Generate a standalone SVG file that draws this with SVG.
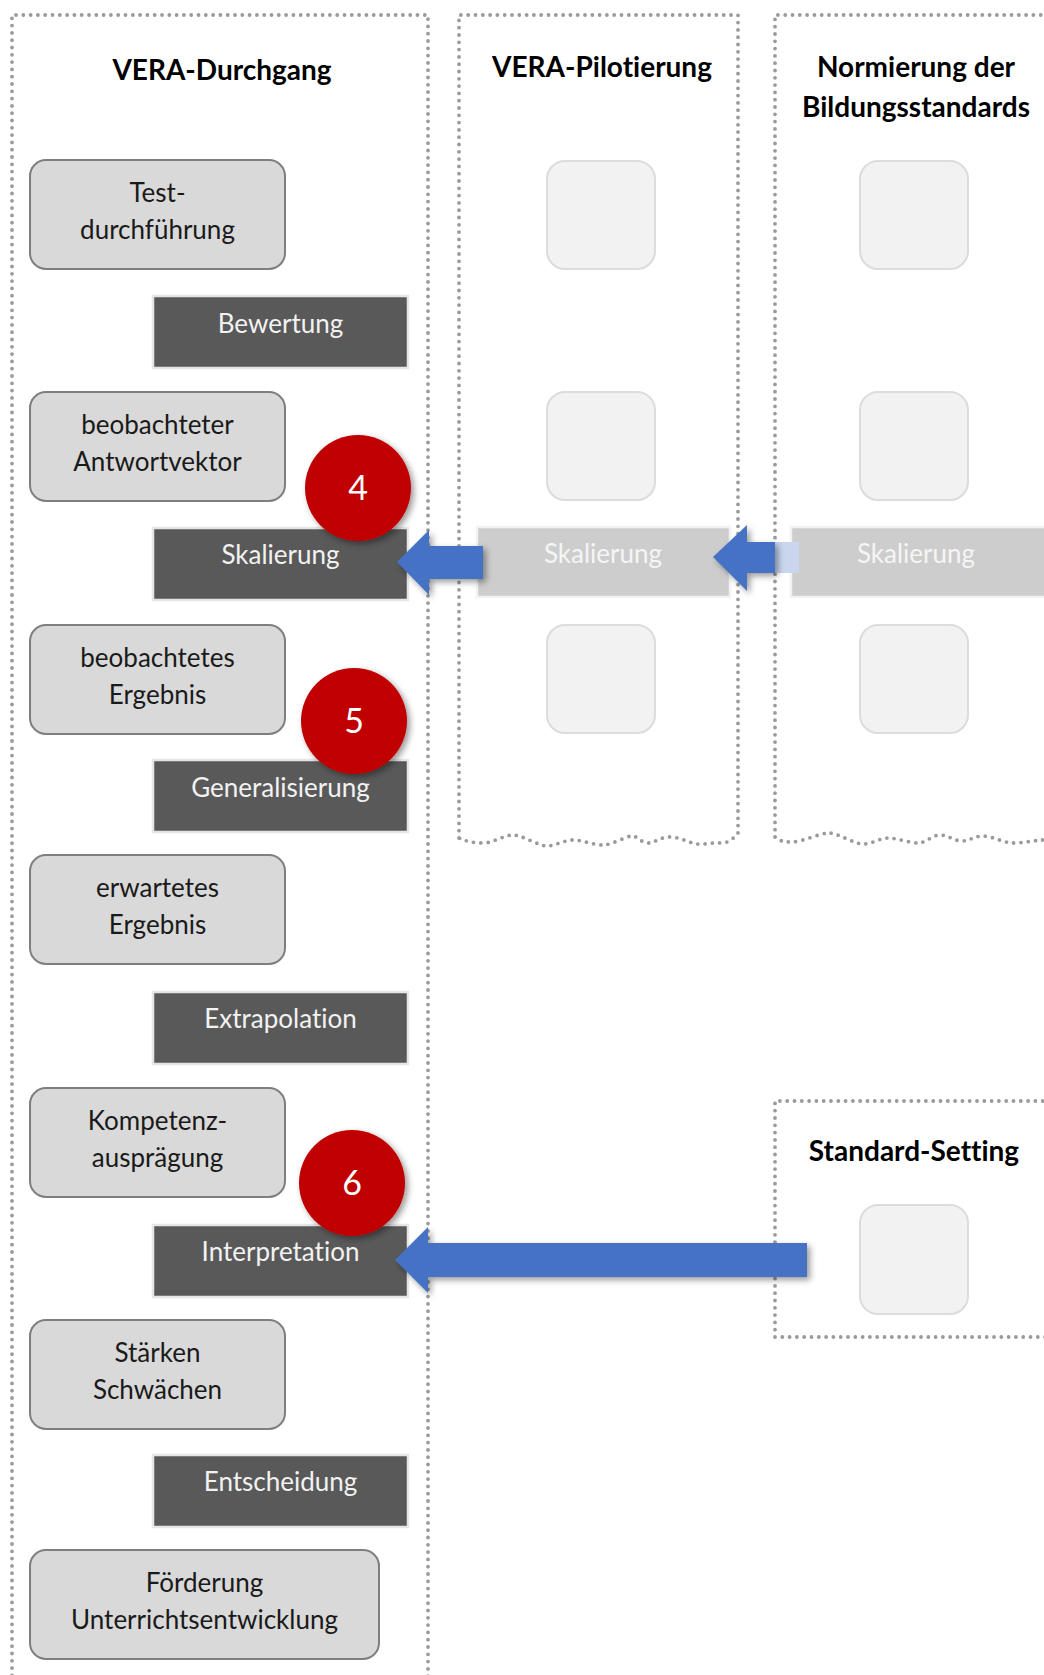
<svg xmlns="http://www.w3.org/2000/svg" width="1044" height="1675" viewBox="0 0 1044 1675">
<defs>
<style>
text{font-variant-ligatures:none;font-feature-settings:"liga" 0,"clig" 0}
.cont{fill:none;stroke:#9a9a9a;stroke-width:3.8;stroke-dasharray:0 7.3;stroke-linecap:round;stroke-linejoin:round}
.title{font-family:Lato,"Liberation Sans",sans-serif;font-weight:bold;font-size:28px;fill:#000;text-anchor:middle}
.lbox{fill:#d9d9d9;stroke:#7f7f7f;stroke-width:2}
.ltxt{font-family:Lato,"Liberation Sans",sans-serif;font-size:26px;fill:#1a1a1a;text-anchor:middle}
.dbox{fill:#595959;stroke:#e6e6e6;stroke-width:2.5}
.dtxt{font-family:Lato,"Liberation Sans",sans-serif;font-size:26px;fill:#f2f2f2;text-anchor:middle}
.fbox{fill:#f2f2f2;stroke:#dcdcdc;stroke-width:2}
.fsk{fill:#cdcdcd;stroke:#f2f2f2;stroke-width:2.5}
.ftxt{font-family:Lato,"Liberation Sans",sans-serif;font-size:26px;fill:#f5f5f5;text-anchor:middle}
.circ{fill:#c00000;filter:url(#sh)}
.ctxt{font-family:Lato,"Liberation Sans",sans-serif;font-size:34px;fill:#fff;text-anchor:middle}
.arr{fill:#4472c4;filter:url(#sh)}
</style>
<filter id="sh" x="-20%" y="-20%" width="150%" height="150%">
<feDropShadow dx="3" dy="3" stdDeviation="3" flood-color="#000" flood-opacity="0.4"/>
</filter>
</defs>
<rect width="1044" height="1675" fill="#fff"/>

<g id="containers">
<g id="c-vera-durchgang">
<path class="cont" d="M12,1690 L12,15 L428,15 L428,1690"/>
<text class="title" x="222" y="80">VERA-Durchgang</text>
</g>
<g id="c-vera-pilotierung">
<path class="cont" d="M459,838 L459,15 L738,15 L738,833 C735,837 728,844 720,843 S705,845 697,844 S678,836 668,837 S655,843 648,843 S638,836 632,836 S612,845 603,845 S582,840 573,840 S555,846 547,846 S522,835 513,835 S493,843 483,843 S465,841 459,838 Z"/>
<text class="title" x="602" y="77">VERA-Pilotierung</text>
</g>
<g id="c-normierung">
<path class="cont" d="M775,837 L775,15 L1050,15 M1050,840 C1045,840 1040,840 1040,840 S1022,843 1013,843 S992,836 983,836 S970,841 962,841 S948,835 940,835 S926,843 918,843 S896,838 888,838 S872,844 863,844 S838,833 829,833 S802,842 792,842 S778,840 775,837"/>
<text class="title" x="916" y="77">Normierung der</text>
<text class="title" x="916" y="117">Bildungsstandards</text>
</g>
<g id="c-standard-setting">
<path class="cont" d="M1050,1101 L775,1101 L775,1337 L1050,1337"/>
<text class="title" x="914" y="1161">Standard-Setting</text>
</g>
</g>

<g id="n-test"><rect class="lbox" x="30" y="160" width="255" height="109" rx="16"/><text class="ltxt" x="157.5" y="202">Test-</text><text class="ltxt" x="157.5" y="239">durchführung</text></g>
<g id="n-bewertung"><rect class="dbox" x="153" y="296" width="255" height="72"/><text class="dtxt" x="280.5" y="333">Bewertung</text></g>
<g id="n-antwortvektor"><rect class="lbox" x="30" y="392" width="255" height="109" rx="16"/><text class="ltxt" x="157.5" y="434">beobachteter</text><text class="ltxt" x="157.5" y="471">Antwortvektor</text></g>
<g id="n-skalierung"><rect class="dbox" x="153" y="528" width="255" height="72"/><text class="dtxt" x="280.5" y="564">Skalierung</text></g>
<g id="n-beob-ergebnis"><rect class="lbox" x="30" y="625" width="255" height="109" rx="16"/><text class="ltxt" x="157.5" y="667">beobachtetes</text><text class="ltxt" x="157.5" y="704">Ergebnis</text></g>
<g id="n-generalisierung"><rect class="dbox" x="153" y="760" width="255" height="72"/><text class="dtxt" x="280.5" y="797">Generalisierung</text></g>
<g id="n-erw-ergebnis"><rect class="lbox" x="30" y="855" width="255" height="109" rx="16"/><text class="ltxt" x="157.5" y="897">erwartetes</text><text class="ltxt" x="157.5" y="934">Ergebnis</text></g>
<g id="n-extrapolation"><rect class="dbox" x="153" y="992" width="255" height="72"/><text class="dtxt" x="280.5" y="1028">Extrapolation</text></g>
<g id="n-kompetenz"><rect class="lbox" x="30" y="1088" width="255" height="109" rx="16"/><text class="ltxt" x="157.5" y="1130">Kompetenz-</text><text class="ltxt" x="157.5" y="1167">ausprägung</text></g>
<g id="n-interpretation"><rect class="dbox" x="153" y="1225" width="255" height="72"/><text class="dtxt" x="280.5" y="1261">Interpretation</text></g>
<g id="n-staerken"><rect class="lbox" x="30" y="1320" width="255" height="109" rx="16"/><text class="ltxt" x="157.5" y="1362">Stärken</text><text class="ltxt" x="157.5" y="1399">Schwächen</text></g>
<g id="n-entscheidung"><rect class="dbox" x="153" y="1455" width="255" height="72"/><text class="dtxt" x="280.5" y="1491">Entscheidung</text></g>
<g id="n-foerderung"><rect class="lbox" x="30" y="1550" width="349" height="109" rx="16"/><text class="ltxt" x="204.5" y="1592">Förderung</text><text class="ltxt" x="204.5" y="1629">Unterrichtsentwicklung</text></g>

<g id="n-pilot-1"><rect class="fbox" x="547" y="161" width="108" height="108" rx="18"/></g>
<g id="n-pilot-2"><rect class="fbox" x="547" y="392" width="108" height="108" rx="18"/></g>
<g id="n-pilot-skalierung"><rect class="fsk" x="477" y="527" width="253" height="70"/><text class="ftxt" x="603" y="563">Skalierung</text></g>
<g id="n-pilot-3"><rect class="fbox" x="547" y="625" width="108" height="108" rx="18"/></g>
<g id="n-norm-1"><rect class="fbox" x="860" y="161" width="108" height="108" rx="18"/></g>
<g id="n-norm-2"><rect class="fbox" x="860" y="392" width="108" height="108" rx="18"/></g>
<g id="n-norm-skalierung"><rect class="fsk" x="791" y="527" width="255" height="70"/><text class="ftxt" x="916" y="563">Skalierung</text></g>
<g id="n-norm-3"><rect class="fbox" x="860" y="625" width="108" height="108" rx="18"/></g>
<g id="n-standard-1"><rect class="fbox" x="860" y="1205" width="108" height="109" rx="18"/></g>

<g id="connectors">
<polygon class="arr" points="397,562 429,530 429,546 483,546 483,579 429,579 429,595"/>
<rect x="775" y="542" width="24" height="31" fill="#c9d6ee"/>
<polygon class="arr" points="713,557 747,525 747,542 775,542 775,573 747,573 747,591"/>
<polygon class="arr" points="395,1260 428,1227 428,1243 807,1243 807,1277 428,1277 428,1293"/>
</g>

<g id="n-badge-4"><circle class="circ" cx="358" cy="488" r="53"/><text class="ctxt" x="358" y="500">4</text></g>
<g id="n-badge-5"><circle class="circ" cx="354" cy="721" r="53"/><text class="ctxt" x="354" y="733">5</text></g>
<g id="n-badge-6"><circle class="circ" cx="352" cy="1183" r="53"/><text class="ctxt" x="352" y="1195">6</text></g>
</svg>
